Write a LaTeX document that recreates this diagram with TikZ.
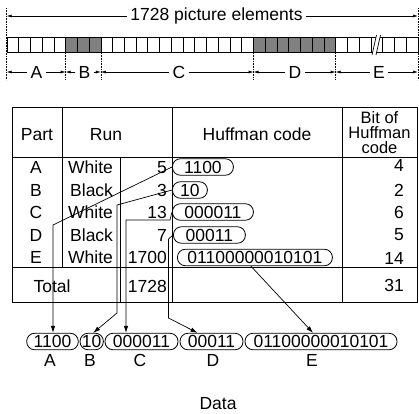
\documentclass[tikz,border=0pt]{standalone}
\usepackage{fontspec}
\setmainfont{Liberation Sans}
\usetikzlibrary{arrows.meta,calc}
\begin{document}
\begin{tikzpicture}[x=1pt,y=-1pt,
  every node/.style={font=\fontsize{17.5}{19}\selectfont, inner sep=0pt},
  txt/.style={anchor=base},
  bub/.style={draw, rounded corners=8pt, minimum height=16.5pt, line width=0.8pt, inner xsep=3pt},
  tline/.style={line width=0.9pt},
  con/.style={line width=0.7pt},
  arr/.style={con, -{Latex[length=7pt,width=4.5pt]}},
  dimarr/.style={line width=0.6pt, -{Latex[length=5pt,width=3pt]}},
  guide/.style={densely dotted, line width=0.6pt},
  cell/.style={draw, line width=0.8pt},
  dark/.style={cell, fill=black!50}
]
\useasboundingbox (0,0) rectangle (419,413);

% ---- bar of picture elements ----
\foreach \i in {0,...,34}{
  \pgfmathsetmacro{\xa}{7+11.74*\i}
  \pgfmathsetmacro{\xb}{7+11.74*(\i+1)}
  \pgfmathtruncatemacro{\dk}{((\i>4) && (\i<8)) || ((\i>20) && (\i<28)) ? 1 : 0}
  \ifnum\dk=1 \path[dark] (\xa,37.5) rectangle (\xb,52.5);
  \else \path[cell] (\xa,37.5) rectangle (\xb,52.5); \fi
}
% break mark
\fill[white] (372,55) -- (376.5,35) -- (380.5,35) -- (376,55) -- cycle;
\draw[line width=0.7pt] (372,55) -- (376.5,35);
\draw[line width=0.7pt] (376,55) -- (380.5,35);

% ---- top dimension ----
\draw[guide] (6.7,8) -- (6.7,80);
\draw[guide] (418,8) -- (418,80);
\foreach \x in {65.7,100.9,253.5,335.7}{ \draw[guide] (\x,53) -- (\x,80); }

\node[inner xsep=3pt] (tl) at (216.5,16) {1728 picture elements};
\coordinate (tL) at (6.7,16);
\coordinate (tR) at (418,16);
\draw[dimarr] (tl.west) -- (tL);
\draw[dimarr] (tl.east) -- (tR);

\coordinate (b0) at (6.7,72);
\coordinate (b1) at (65.7,72);
\coordinate (b2) at (100.9,72);
\coordinate (b3) at (253.5,72);
\coordinate (b4) at (335.7,72);
\coordinate (b5) at (418,72);
\node[inner xsep=3pt] (lA) at (36.5,72) {A};
\node[inner xsep=3pt] (lB) at (84.5,72) {B};
\node[inner xsep=3pt] (lC) at (179,72) {C};
\node[inner xsep=3pt] (lD) at (295,72) {D};
\node[inner xsep=3pt] (lE) at (379,72) {E};
\draw[dimarr] (lA.west) -- (b0); \draw[dimarr] (lA.east) -- (b1);
\draw[dimarr] (lB.west) -- (b1); \draw[dimarr] (lB.east) -- (b2);
\draw[dimarr] (lC.west) -- (b2); \draw[dimarr] (lC.east) -- (b3);
\draw[dimarr] (lD.west) -- (b3); \draw[dimarr] (lD.east) -- (b4);
\draw[dimarr] (lE.west) -- (b4); \draw[dimarr] (lE.east) -- (b5);

% ---- table ----
\draw[tline] (12,107) rectangle (417,302);
\draw[tline] (12,157.5) -- (417,157.5);
\draw[tline] (12,267) -- (417,267);
\draw[tline] (62,107) -- (62,267);
\draw[tline] (120.5,157.5) -- (120.5,302);
\draw[tline] (172,107) -- (172,302);
\draw[tline] (342,107) -- (342,302);

\node[txt] (hPart) at (37,140.5) {Part};
\node[txt] (hRun) at (106,140.5) {Run};
\node[txt] (hHuff) at (257,140.5) {Huffman code};
\node[align=center, font=\fontsize{16.5}{15}\selectfont] (hBit) at (379.5,132.5) {Bit of\\Huffman\\code};

% rows
\node[txt] (pA) at (36,173) {A};
\node[txt] (pB) at (36,196) {B};
\node[txt] (pC) at (36,218) {C};
\node[txt] (pD) at (36,241) {D};
\node[txt] (pE) at (36,263.5) {E};

\node[anchor=base west] (cA) at (68,173) {White};
\node[anchor=base west] (cB) at (70,196) {Black};
\node[anchor=base west] (cC) at (68,218) {White};
\node[anchor=base west] (cD) at (70,241) {Black};
\node[anchor=base west] (cE) at (68,263.5) {White};

\node[anchor=base east] (nA) at (167,173) {5};
\node[anchor=base east] (nB) at (167,196) {3};
\node[anchor=base east] (nC) at (167,218) {13};
\node[anchor=base east] (nD) at (167,241) {7};
\node[anchor=base east] (nE) at (167,263.5) {1700};

\node[anchor=base east] (sA) at (404,171.5) {4};
\node[anchor=base east] (sB) at (404,196) {2};
\node[anchor=base east] (sC) at (404,218) {6};
\node[anchor=base east] (sD) at (404,240) {5};
\node[anchor=base east] (sE) at (404,264.5) {14};

\node[txt] (tot) at (52,292) {Total};
\node[anchor=base east] (nT) at (167,292) {1728};
\node[anchor=base east] (sT) at (404,291) {31};

% Huffman code bubbles in the table
\node[bub, anchor=west, minimum width=61pt] (hA) at (172,167) {1100};
\node[bub, anchor=west, minimum width=35pt] (hB) at (172,190) {10};
\node[bub, anchor=west, minimum width=81pt] (hC) at (172,212) {000011};
\node[bub, anchor=west, minimum width=72pt] (hD) at (173,235) {00011};
\node[bub, anchor=west, minimum width=155pt] (hE) at (177,257.5) {01100000010101};

% ---- data bubbles ----
\node[bub, minimum width=51.6pt] (dA) at (52.5,341.5) {1100};
\node[bub, minimum width=23.3pt, inner xsep=1pt] (dB) at (91.7,341.5) {10};
\node[bub, minimum width=73pt] (dC) at (141.5,341.5) {000011};
\node[bub, minimum width=63pt] (dD) at (211.5,341.5) {00011};
\node[bub, minimum width=152pt] (dE) at (321,341.5) {01100000010101};

\node[txt] (xA) at (50,366) {A};
\node[txt] (xB) at (90,366) {B};
\node[txt] (xC) at (140,366) {C};
\node[txt] (xD) at (213,366) {D};
\node[txt] (xE) at (312,366) {E};

\node[txt] (data) at (218,409) {Data};

% ---- connectors ----
\coordinate (kA) at (53,225);
\draw[arr] (hA.west) -- (kA) -- (kA |- dA.north);

\coordinate (kB1) at (117,205);
\coordinate (kB2) at (117,313);
\draw[arr] (hB.west) -- (kB1) -- (kB2) -- ($(dB.north)+(1.5,0)$);

\coordinate (kC1) at (170,220);
\coordinate (kC2) at (126,220);
\draw[arr] (hC.west) -- (kC1) -- (kC2) -- (kC2 |- dC.north);

\coordinate (kD1) at (168.5,239);
\coordinate (kD2) at (168.5,318);
\draw[arr] (hD.west) -- (kD1) -- (kD2) -- ($(dD.north)+(-14,0)$);

\draw[arr] ($(hE.south)+(-4,0)$) -- ($(dE.north)+(-8,0)$);

\end{tikzpicture}
\end{document}
